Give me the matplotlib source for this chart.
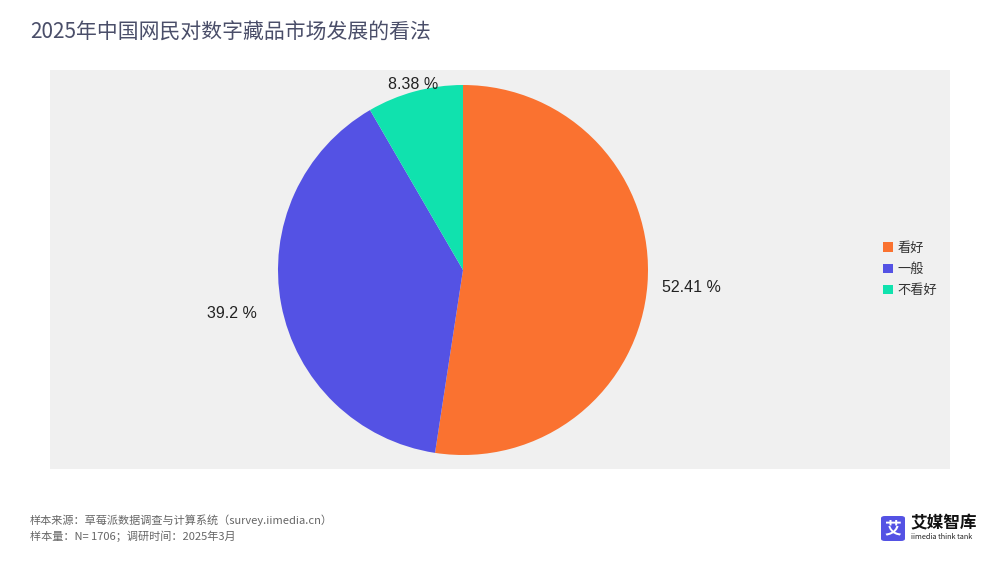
import numpy as np
import matplotlib.pyplot as plt
from matplotlib.patches import FancyBboxPatch

plt.rcParams['font.family'] = ['Noto Sans CJK SC', 'DejaVu Sans']

# data
categories = ['看好', '一般', '不看好']
values = [52.41, 39.2, 8.38]
value_labels = ['52.41 %', '39.2 %', '8.38 %']
colors = ['#FA7230', '#5452E4', '#10E2AE']
label_dist = [1.24, 1.27, 1.04]

title = '2025年中国网民对数字藏品市场发展的看法'
note1 = '样本来源：草莓派数据调查与计算系统（survey.iimedia.cn）'
note2 = '样本量：N= 1706；调研时间：2025年3月'

W, H = 1000, 563
fig = plt.figure(figsize=(W / 100, H / 100), dpi=100)
fig.patch.set_facecolor('white')

# gray panel
panel = fig.add_axes([50 / W, (H - 469) / H, 900 / W, 399 / H])
panel.set_facecolor('#F0F0F0')
panel.set_xticks([])
panel.set_yticks([])
for s in panel.spines.values():
    s.set_visible(False)

# pie
r = 185
cx, cy = 463, H - 270
ax = fig.add_axes([(cx - r) / W, (cy - r) / H, 2 * r / W, 2 * r / H])
wedges, _ = ax.pie(values, colors=colors, startangle=90, counterclock=False,
                   wedgeprops=dict(linewidth=0))
ax.set_xlim(-1, 1)
ax.set_ylim(-1, 1)
ax.set_aspect('equal')
ax.axis('off')

for w, lab, d in zip(wedges, value_labels, label_dist):
    ang = np.deg2rad((w.theta1 + w.theta2) / 2)
    ax.text(d * np.cos(ang), d * np.sin(ang), lab, ha='center', va='center',
            fontsize=11.5, color='#222222', family=['Liberation Sans', 'DejaVu Sans'],
            clip_on=False)

leg = panel.legend(wedges, categories, loc='center left',
                   bbox_to_anchor=(0.912, 0.50), frameon=False,
                   fontsize=9.5, handlelength=0.75, handleheight=0.75,
                   handletextpad=0.35, labelspacing=0.62)
for t in leg.get_texts():
    t.set_color('#333333')

fig.text(30 / W, 1 - 33 / H, title, fontsize=15, color='#4A4E69', va='center', ha='left')
fig.text(30 / W, 1 - 520 / H, note1, fontsize=8, color='#666666', va='center', ha='left')
fig.text(30 / W, 1 - 536 / H, note2, fontsize=8, color='#666666', va='center', ha='left')

# logo
logo = FancyBboxPatch((881 / W, 1 - 541 / H), 24 / W, 25 / H,
                      boxstyle='round,pad=0,rounding_size=0.004',
                      transform=fig.transFigure, facecolor='#5452E4', edgecolor='none')
fig.patches.append(logo)
fig.text(893 / W, 1 - 528 / H, '艾', fontsize=12, color='white', weight='bold',
         ha='center', va='center')
fig.text(910 / W, 1 - 523 / H, '艾媒智库', fontsize=12, color='#111111', weight='bold',
         ha='left', va='center')
fig.text(911 / W, 1 - 537 / H, 'iimedia think tank', fontsize=5.3, color='#222222',
         ha='left', va='center')

fig.savefig('out.png', dpi=100)
